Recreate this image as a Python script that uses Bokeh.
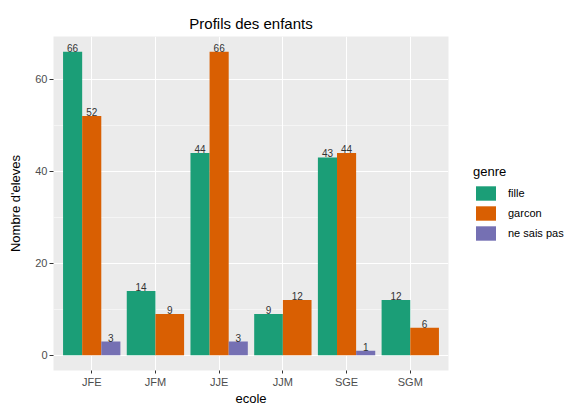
from bokeh.plotting import figure
from bokeh.models import (ColumnDataSource, Range1d, FixedTicker, Legend, LegendItem)
from bokeh.core.properties import value
from bokeh.embed import file_html
from bokeh.resources import INLINE

# ---- data ----
categories = ["JFE", "JFM", "JJE", "JJM", "SGE", "SGM"]
genres = ["fille", "garcon", "ne sais pas"]
fille = [66, 14, 44, 9, 43, 12]
garcon = [52, 9, 66, 12, 44, 6]
ne_sais_pas = [3, None, 3, None, 1, None]
colors = ["#1B9E77", "#D95F02", "#7570B3"]

series = {"fille": fille, "garcon": garcon, "ne sais pas": ne_sais_pas}

# dodge positions (ggplot position_dodge, total width 0.9)
sources = {}
for g in genres:
    sources[g] = dict(x=[], top=[], w=[], lab=[])
for i, cat in enumerate(categories):
    present = [g for g in genres if series[g][i] is not None]
    n = len(present)
    w = 0.9 / n
    for k, g in enumerate(present):
        sources[g]["x"].append(i + 1 - 0.45 + (k + 0.5) * w)
        sources[g]["top"].append(series[g][i])
        sources[g]["w"].append(w)
        sources[g]["lab"].append(str(series[g][i]))

all_vals = [v for g in genres for v in series[g] if v is not None]
ymax = max(all_vals)
pad = ymax * 0.05

FONT = "Liberation Sans"

p = figure(frame_width=395, frame_height=334, output_backend="svg", toolbar_location=None,
           x_range=Range1d(0.4, len(categories) + 0.6),
           y_range=Range1d(-pad, ymax + pad),
           min_border_left=53, min_border_right=132,
           min_border_top=36, min_border_bottom=30)

p.background_fill_color = "#EBEBEB"
p.border_fill_color = "white"
p.outline_line_color = None

p.title.text = "Profils des enfants"
p.title.align = "center"
p.title.text_font = FONT
p.title.text_font_size = "15px"
p.title.text_font_style = "normal"
p.title.text_color = "black"
p.title.standoff = 9

renderers = []
for g, c in zip(genres, colors):
    src = ColumnDataSource(sources[g])
    r = p.vbar(x="x", top="top", width="w", bottom=0, source=src,
               fill_color=c, line_color=None)
    renderers.append(r)
    p.text(x="x", y="top", text="lab", source=src, text_align="center",
           text_baseline="alphabetic", y_offset=-4,
           text_font=value(FONT), text_font_size="10px", text_color="#333333")

# axes
p.xaxis.ticker = FixedTicker(ticks=list(range(1, len(categories) + 1)))
p.xaxis.major_label_overrides = {i + 1: c for i, c in enumerate(categories)}
p.yaxis.ticker = FixedTicker(ticks=[0, 20, 40, 60], minor_ticks=[10, 30, 50])

for ax in (p.xaxis[0], p.yaxis[0]):
    ax.axis_line_color = None
    ax.major_tick_line_color = "#333333"
    ax.major_tick_out = 4
    ax.major_tick_in = 0
    ax.minor_tick_line_color = None
    ax.major_label_text_font = FONT
    ax.major_label_text_font_size = "11px"
    ax.major_label_text_color = "#4D4D4D"
    ax.major_label_standoff = 2
    ax.axis_label_text_font = FONT
    ax.axis_label_text_font_size = "13px"
    ax.axis_label_text_font_style = "normal"
    ax.axis_label_text_color = "black"

p.yaxis.axis_label = "Nombre d'eleves"
p.yaxis.axis_label_standoff = 9
p.xaxis.axis_label = "ecole"
p.xaxis.axis_label_standoff = 0
p.xaxis.major_tick_out = 3

p.xgrid.grid_line_color = "white"
p.xgrid.grid_line_width = 1.1
p.ygrid.grid_line_color = "white"
p.ygrid.grid_line_width = 1.1
p.ygrid.minor_grid_line_color = "white"
p.ygrid.minor_grid_line_width = 0.5

legend = Legend(items=[LegendItem(label=g, renderers=[r]) for g, r in zip(genres, renderers)],
                location=(25, 128), title="genre",
                title_text_font=FONT, title_text_font_size="13px", title_text_color="black",
                title_text_font_style="normal", title_standoff=5,
                label_text_font=FONT, label_text_font_size="11px", label_text_color="black",
                glyph_width=25, glyph_height=18, label_height=18, spacing=2,
                label_standoff=10, padding=0, margin=0,
                border_line_color=None, background_fill_alpha=0)
p.add_layout(legend, "right")

open("out.html", "w").write(file_html(p, INLINE))
